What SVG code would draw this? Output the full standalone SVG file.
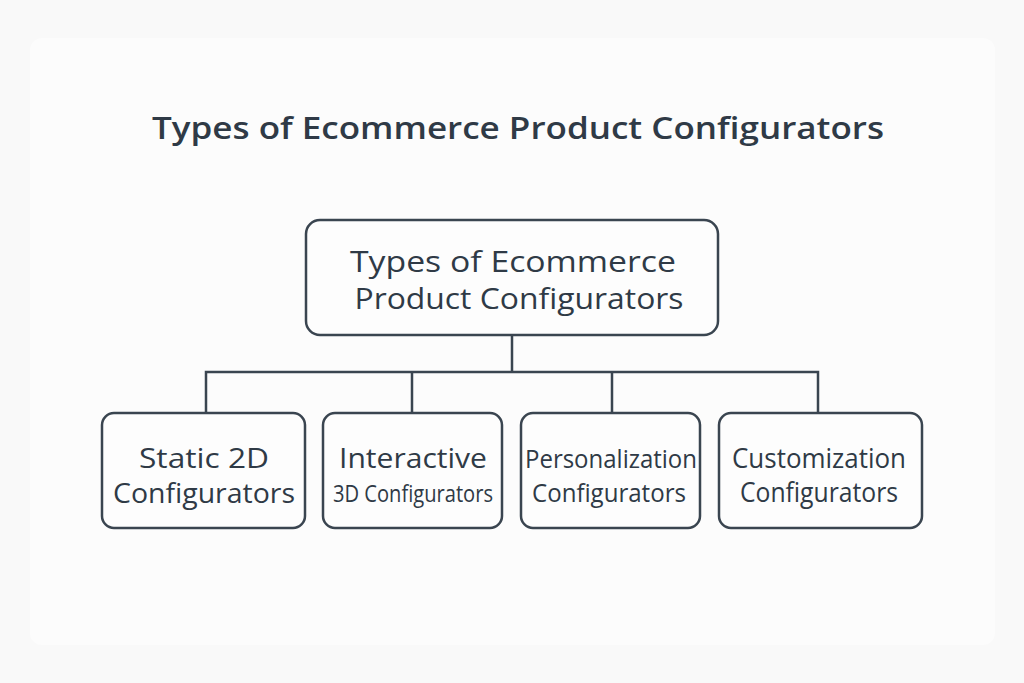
<svg xmlns="http://www.w3.org/2000/svg" width="1024" height="683" viewBox="0 0 1024 683">
<style>
.box{fill:#fdfdfd;stroke:#3a4550;stroke-width:2.5}
.t{font-family:"Open Sans","Liberation Sans",sans-serif;fill:#2f3a46;text-anchor:middle}
.c{fill:none;stroke:#3a4550;stroke-width:2.5}
</style>
<rect width="1024" height="683" fill="#f9f9f9"/>
<rect x="30" y="38" width="965" height="607" rx="12" fill="#fcfcfc"/>
<text class="t" x="518" y="139" font-size="31" font-weight="600" textLength="732" lengthAdjust="spacingAndGlyphs">Types of Ecommerce Product Configurators</text>
<g id="connectors">
<path class="c" d="M512 335V372M206 413V372H818V413M412 372V413M612 372V413"/>
</g>
<g id="root"><rect class="box" x="306" y="220" width="412" height="115" rx="14"/>
<text class="t" x="513" y="272" font-size="30" textLength="326" lengthAdjust="spacingAndGlyphs">Types of Ecommerce</text>
<text class="t" x="519" y="309" font-size="30" textLength="329" lengthAdjust="spacingAndGlyphs">Product Configurators</text></g>
<g id="n1"><rect class="box" x="102" y="413" width="203" height="115" rx="12"/>
<text class="t" x="204" y="468" font-size="28" textLength="130" lengthAdjust="spacingAndGlyphs">Static 2D</text>
<text class="t" x="204" y="503" font-size="28" textLength="182" lengthAdjust="spacingAndGlyphs">Configurators</text></g>
<g id="n2"><rect class="box" x="323" y="413" width="179" height="115" rx="12"/>
<text class="t" x="413" y="468" font-size="28" textLength="148" lengthAdjust="spacingAndGlyphs">Interactive</text>
<text class="t" x="413" y="502" font-size="24" textLength="160" lengthAdjust="spacingAndGlyphs">3D Configurators</text></g>
<g id="n3"><rect class="box" x="521" y="413" width="179" height="115" rx="12"/>
<text class="t" x="611" y="468" font-size="26" textLength="172" lengthAdjust="spacingAndGlyphs">Personalization</text>
<text class="t" x="609" y="502" font-size="26" textLength="154" lengthAdjust="spacingAndGlyphs">Configurators</text></g>
<g id="n4"><rect class="box" x="719" y="413" width="203" height="115" rx="12"/>
<text class="t" x="819" y="468" font-size="27" textLength="174" lengthAdjust="spacingAndGlyphs">Customization</text>
<text class="t" x="819" y="502" font-size="27" textLength="158" lengthAdjust="spacingAndGlyphs">Configurators</text></g>
</svg>
